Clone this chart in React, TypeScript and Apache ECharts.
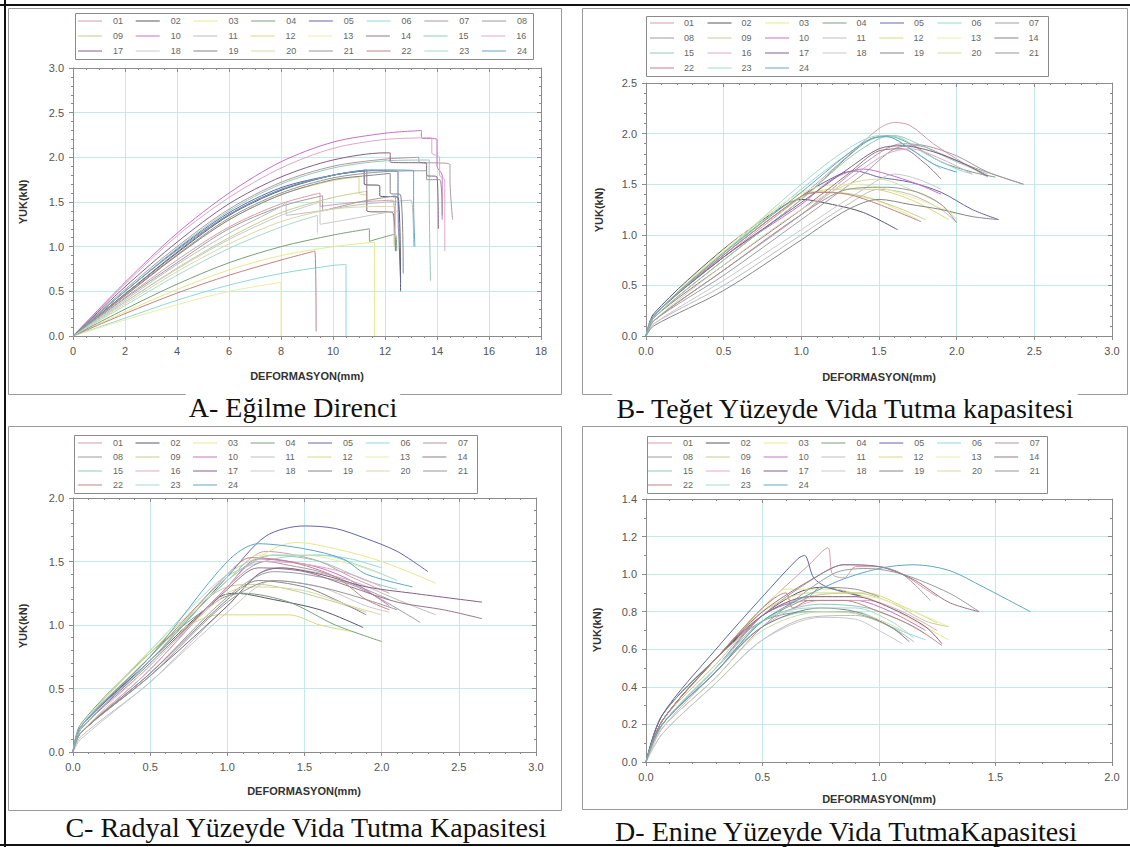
import React, { useEffect, useRef } from "react";
import * as echarts from "echarts";

const IDS = ["01","02","03","04","05","06","07","08","09","10","11","12","13","14","15","16","17","18","19","20","21","22","23","24"];
const COLORS = ["#d99aa6","#56566a","#e8e88a","#78a078","#6464a8","#8fd8d8","#b0979f","#9c9c9c","#c4cc92","#c86ec8","#bdbdbd","#d8d87e","#ececa4","#967686","#93c9b6","#e0a6c8","#845f86","#c8c8c8","#868686","#d8d8a6","#979797","#c08282","#a6dac8","#5ea6c8"];

// Panel A – Eğilme Direnci (deformation mm, load kN)
const CURVES_A: number[][][] = [
  [[0,0],[2,0.43],[4,0.85],[6,1.22],[8,1.48],[9.5,1.6],[9.5,1.45],[11,1.5],[12.3,1.52],[12.4,0.95]],
  [[0,0],[2,0.47],[4,0.93],[6,1.35],[8,1.63],[10,1.8],[11.2,1.85],[11.2,1.7],[11.8,1.68],[11.8,1.57],[12.5,1.55],[12.6,0.5]],
  [[0,0],[2,0.27],[4,0.52],[6,0.74],[8,0.9],[10,1.0],[11.6,1.05],[11.6,0.0]],
  [[0,0],[2,0.3],[4,0.58],[6,0.82],[8,1.0],[10,1.13],[11.4,1.2],[11.4,1.06],[12.4,1.14],[12.45,0.95]],
  [[0,0],[2,0.5],[4,0.97],[6,1.38],[8,1.66],[10,1.8],[11.5,1.85],[12.5,1.84],[12.5,1.62],[12.6,0.6]],
  [[0,0],[2,0.2],[4,0.4],[6,0.57],[8,0.7],[10,0.79],[10.5,0.8],[10.5,0.0]],
  [[0,0],[2,0.52],[4,1.0],[6,1.42],[8,1.72],[10,1.9],[12,1.98],[13.3,2.0],[13.3,1.95],[14.5,1.92],[14.5,1.75],[14.6,1.3]],
  [[0,0],[2,0.42],[4,0.82],[6,1.2],[8,1.45],[9.6,1.57],[9.6,1.4],[11,1.5],[12.4,1.57],[12.4,1.3]],
  [[0,0],[2,0.38],[4,0.76],[6,1.1],[8,1.38],[10,1.55],[11.3,1.62],[11.3,1.4],[12.3,1.38],[12.35,1.0]],
  [[0,0],[2,0.6],[4,1.15],[6,1.6],[8,1.95],[10,2.17],[12,2.27],[13.4,2.3],[13.4,2.22],[14.0,2.2],[14.0,1.9],[14.2,1.8],[14.2,1.3]],
  [[0,0],[2,0.4],[4,0.8],[6,1.15],[8,1.45],[8.2,1.5],[8.2,1.35],[9.5,1.4],[11,1.47],[13,1.52],[13.1,1.0]],
  [[0,0],[2,0.45],[4,0.9],[6,1.3],[8,1.58],[10,1.74],[11,1.78],[11,1.6],[11.3,1.58]],
  [[0,0],[2,0.18],[4,0.35],[6,0.5],[8,0.6],[8,0.0]],
  [[0,0],[2,0.47],[4,0.94],[6,1.36],[8,1.64],[10,1.8],[11.3,1.86],[11.3,1.4],[12.3,1.38],[12.4,0.95]],
  [[0,0],[2,0.5],[4,0.98],[6,1.4],[8,1.7],[10,1.88],[12,1.96],[13.7,1.97],[13.7,1.6],[13.75,0.62]],
  [[0,0],[2,0.58],[4,1.12],[6,1.55],[8,1.88],[10,2.1],[12,2.2],[13.8,2.22],[13.8,2.05],[14.1,2.0],[14.1,1.8],[14.3,1.75],[14.3,0.95]],
  [[0,0],[2,0.55],[4,1.05],[6,1.48],[8,1.78],[10,1.97],[12,2.05],[12.2,2.05],[12.2,1.95],[13.6,1.93],[13.6,1.8],[14,1.78],[14.05,1.2]],
  [[0,0],[2,0.38],[4,0.75],[6,1.08],[8,1.35],[9.5,1.5],[9.5,1.25],[10.5,1.3],[12,1.38],[12.5,1.4],[12.5,1.2]],
  [[0,0],[2,0.45],[4,0.9],[6,1.3],[8,1.58],[10,1.75],[11.5,1.8],[12.2,1.82],[12.2,1.6],[12.6,1.58],[12.7,0.7]],
  [[0,0],[2,0.36],[4,0.72],[6,1.03],[8,1.28],[10,1.42],[12,1.45],[12.4,1.45],[12.4,1.1]],
  [[0,0],[2,0.46],[4,0.91],[6,1.32],[8,1.6],[10,1.77],[12,1.84],[13.6,1.85],[13.6,1.75],[14.1,1.75],[14.2,1.35]],
  [[0,0],[2,0.25],[4,0.48],[6,0.68],[8,0.85],[9.3,0.95],[9.35,0.05]],
  [[0,0],[2,0.34],[4,0.68],[6,0.98],[8,1.22],[9.4,1.35],[9.4,1.15]],
  [[0,0],[2,0.5],[4,0.96],[6,1.36],[8,1.64],[10,1.8],[11.5,1.86],[13.1,1.85],[13.1,1.5],[13.15,1.0]],
];

// Panel B – Teğet Yüzeyde Vida Tutma kapasitesi
const CURVES_B: number[][][] = [
  [[0,0],[0.05,0.2],[0.5,0.78],[1.0,1.38],[1.3,1.78],[1.5,2.05],[1.6,2.11],[1.7,2.08],[1.85,1.9],[2.0,1.75],[2.2,1.57]],
  [[0,0],[0.05,0.22],[0.5,0.86],[0.9,1.3],[1.0,1.35],[1.2,1.3],[1.4,1.22],[1.62,1.05]],
  [[0,0],[0.05,0.2],[0.5,0.83],[0.95,1.38],[1.1,1.43],[1.3,1.4],[1.5,1.33],[1.75,1.15]],
  [[0,0],[0.05,0.18],[0.5,0.75],[1.0,1.35],[1.4,1.9],[1.55,1.98],[1.7,1.9],[1.9,1.72],[2.1,1.62],[2.25,1.57]],
  [[0,0],[0.05,0.2],[0.5,0.8],[1.0,1.38],[1.25,1.6],[1.35,1.63],[1.5,1.57],[1.7,1.52],[1.9,1.42],[2.1,1.25],[2.27,1.15]],
  [[0,0],[0.05,0.2],[0.5,0.8],[1.0,1.45],[1.3,1.8],[1.5,1.97],[1.6,1.97],[1.8,1.8],[2.0,1.65],[2.1,1.6]],
  [[0,0],[0.05,0.15],[0.5,0.65],[1.0,1.2],[1.4,1.7],[1.65,1.9],[1.8,1.88],[2.0,1.78],[2.2,1.62],[2.43,1.5]],
  [[0,0],[0.05,0.15],[0.5,0.6],[1.0,1.15],[1.4,1.6],[1.6,1.85],[1.75,1.88],[1.9,1.8],[2.1,1.67],[2.43,1.5]],
  [[0,0],[0.05,0.2],[0.5,0.83],[1.0,1.38],[1.2,1.42],[1.4,1.38],[1.6,1.28],[1.8,1.15]],
  [[0,0],[0.05,0.2],[0.5,0.78],[1.0,1.3],[1.2,1.55],[1.4,1.65],[1.55,1.6],[1.75,1.5],[1.9,1.4]],
  [[0,0],[0.05,0.12],[0.5,0.5],[1.0,1.0],[1.3,1.3],[1.5,1.45],[1.7,1.4],[1.9,1.25],[2.0,1.12]],
  [[0,0],[0.05,0.2],[0.5,0.8],[1.0,1.37],[1.2,1.45],[1.45,1.45],[1.7,1.35],[1.95,1.15]],
  [[0,0],[0.05,0.2],[0.5,0.85],[1.0,1.42],[1.3,1.5],[1.5,1.47],[1.75,1.35],[2.0,1.2]],
  [[0,0],[0.05,0.18],[0.5,0.7],[1.0,1.25],[1.3,1.6],[1.5,1.83],[1.65,1.85],[1.8,1.7],[1.9,1.55]],
  [[0,0],[0.05,0.18],[0.5,0.75],[1.0,1.35],[1.3,1.75],[1.5,1.95],[1.6,1.98],[1.75,1.9],[2.0,1.72],[2.2,1.6]],
  [[0,0],[0.05,0.15],[0.5,0.65],[1.0,1.2],[1.35,1.6],[1.55,1.8],[1.7,1.85],[1.9,1.75],[2.1,1.6]],
  [[0,0],[0.05,0.2],[0.5,0.78],[1.0,1.32],[1.3,1.65],[1.5,1.85],[1.65,1.88],[1.85,1.82],[2.05,1.7],[2.2,1.58]],
  [[0,0],[0.05,0.12],[0.5,0.55],[1.0,1.05],[1.4,1.45],[1.6,1.6],[1.75,1.55],[1.9,1.45]],
  [[0,0],[0.05,0.1],[0.5,0.45],[1.0,0.95],[1.3,1.25],[1.5,1.35],[1.7,1.3],[1.9,1.25],[2.1,1.18],[2.27,1.15]],
  [[0,0],[0.05,0.15],[0.5,0.7],[1.0,1.25],[1.3,1.5],[1.5,1.55],[1.7,1.45],[1.9,1.3],[2.0,1.15]],
  [[0,0],[0.05,0.15],[0.5,0.65],[1.0,1.2],[1.3,1.45],[1.55,1.47],[1.75,1.42],[1.9,1.3],[2.0,1.12]],
  [[0,0],[0.05,0.2],[0.5,0.8],[1.0,1.38],[1.1,1.42],[1.3,1.4],[1.5,1.3],[1.77,1.13]],
  [[0,0],[0.05,0.2],[0.5,0.82],[1.0,1.5],[1.3,1.85],[1.5,1.98],[1.6,1.95],[1.8,1.75],[1.9,1.65]],
  [[0,0],[0.05,0.2],[0.5,0.82],[1.0,1.42],[1.3,1.8],[1.45,1.95],[1.55,1.97],[1.7,1.85],[1.85,1.7],[2.0,1.62]],
];

// Panel C – Radyal Yüzeyde Vida Tutma Kapasitesi
const CURVES_C: number[][][] = [
  [[0,0],[0.05,0.2],[0.5,0.75],[1.0,1.35],[1.25,1.58],[1.4,1.56],[1.6,1.5],[1.8,1.38],[2.05,1.25]],
  [[0,0],[0.05,0.2],[0.5,0.72],[0.95,1.22],[1.05,1.25],[1.3,1.2],[1.6,1.12],[1.88,0.98]],
  [[0,0],[0.05,0.2],[0.5,0.75],[1.0,1.35],[1.3,1.6],[1.45,1.65],[1.7,1.6],[2.0,1.5],[2.35,1.33]],
  [[0,0],[0.05,0.22],[0.5,0.78],[0.95,1.2],[1.1,1.25],[1.4,1.18],[1.7,1.0],[2.0,0.87]],
  [[0,0],[0.05,0.2],[0.5,0.72],[1.0,1.38],[1.25,1.7],[1.5,1.78],[1.7,1.76],[1.9,1.68],[2.1,1.58],[2.3,1.42]],
  [[0,0],[0.05,0.18],[0.5,0.72],[1.0,1.38],[1.3,1.52],[1.6,1.55],[1.8,1.52],[2.0,1.45]],
  [[0,0],[0.05,0.15],[0.5,0.65],[1.0,1.3],[1.25,1.5],[1.4,1.47],[1.6,1.42],[1.8,1.33],[2.05,1.2]],
  [[0,0],[0.05,0.15],[0.5,0.62],[1.0,1.22],[1.3,1.42],[1.5,1.4],[1.8,1.32],[2.0,1.2],[2.25,1.02]],
  [[0,0],[0.05,0.2],[0.5,0.78],[1.0,1.3],[1.2,1.32],[1.4,1.28],[1.7,1.18],[1.9,1.1]],
  [[0,0],[0.05,0.18],[0.5,0.68],[1.0,1.3],[1.2,1.52],[1.4,1.5],[1.6,1.45],[1.8,1.35],[2.05,1.15]],
  [[0,0],[0.05,0.12],[0.5,0.55],[1.0,1.15],[1.3,1.45],[1.5,1.43],[1.8,1.35],[2.1,1.2],[2.35,1.08]],
  [[0,0],[0.05,0.2],[0.5,0.78],[0.95,1.08],[1.2,1.08],[1.4,1.08],[1.6,1.0],[1.8,0.95]],
  [[0,0],[0.05,0.2],[0.5,0.8],[1.0,1.35],[1.2,1.55],[1.5,1.55],[1.8,1.48],[2.0,1.4]],
  [[0,0],[0.05,0.18],[0.5,0.7],[1.0,1.28],[1.2,1.45],[1.5,1.42],[1.8,1.3],[2.1,1.18],[2.4,1.12],[2.65,1.05]],
  [[0,0],[0.05,0.18],[0.5,0.72],[1.0,1.35],[1.3,1.55],[1.6,1.5],[1.9,1.35],[2.1,1.28]],
  [[0,0],[0.05,0.15],[0.5,0.65],[1.0,1.3],[1.2,1.5],[1.5,1.48],[1.8,1.4],[2.0,1.3]],
  [[0,0],[0.05,0.15],[0.5,0.6],[1.0,1.15],[1.2,1.4],[1.35,1.45],[1.6,1.4],[1.9,1.3],[2.2,1.25],[2.65,1.18]],
  [[0,0],[0.05,0.1],[0.5,0.55],[1.0,1.1],[1.3,1.35],[1.6,1.3],[1.9,1.15],[2.05,1.1]],
  [[0,0],[0.05,0.15],[0.5,0.62],[1.0,1.2],[1.2,1.35],[1.5,1.3],[1.7,1.2],[1.9,1.08]],
  [[0,0],[0.05,0.15],[0.5,0.68],[1.0,1.25],[1.2,1.3],[1.5,1.27],[1.8,1.15],[2.0,1.08]],
  [[0,0],[0.05,0.15],[0.5,0.6],[1.0,1.18],[1.3,1.35],[1.6,1.3],[1.9,1.2],[2.1,1.12]],
  [[0,0],[0.05,0.2],[0.5,0.75],[1.0,1.4],[1.15,1.53],[1.4,1.5],[1.7,1.38],[1.9,1.2],[2.05,1.12]],
  [[0,0],[0.05,0.2],[0.5,0.8],[1.0,1.4],[1.3,1.55],[1.6,1.55],[1.9,1.45],[2.1,1.35]],
  [[0,0],[0.05,0.2],[0.5,0.75],[1.0,1.5],[1.2,1.64],[1.5,1.6],[1.75,1.52],[1.9,1.4],[2.2,1.3]],
];

// Panel D – Enine Yüzeyde Vida Tutma Kapasitesi
const CURVES_D: number[][][] = [
  [[0,0],[0.07,0.22],[0.3,0.55],[0.5,0.82],[0.7,1.05],[0.78,1.14],[0.8,1.0],[0.85,0.98],[0.9,1.04],[1.0,1.04],[1.1,1.0],[1.2,0.92],[1.25,0.88]],
  [[0,0],[0.07,0.25],[0.3,0.55],[0.5,0.78],[0.65,0.9],[0.75,0.93],[0.85,0.91],[0.93,0.88]],
  [[0,0],[0.07,0.22],[0.3,0.55],[0.5,0.8],[0.6,0.92],[0.8,0.92],[1.0,0.85],[1.15,0.75],[1.3,0.65]],
  [[0,0],[0.07,0.25],[0.3,0.55],[0.5,0.75],[0.7,0.8],[0.85,0.8],[1.0,0.75],[1.1,0.68]],
  [[0,0],[0.07,0.25],[0.3,0.6],[0.5,0.88],[0.65,1.08],[0.68,1.1],[0.72,0.98],[0.78,0.93],[0.93,0.88]],
  [[0,0],[0.07,0.2],[0.3,0.5],[0.5,0.72],[0.7,0.8],[0.9,0.8],[1.05,0.72],[1.2,0.65]],
  [[0,0],[0.07,0.2],[0.3,0.5],[0.5,0.78],[0.75,1.0],[0.85,1.05],[1.0,1.04],[1.1,1.0],[1.22,0.86]],
  [[0,0],[0.07,0.18],[0.3,0.45],[0.5,0.72],[0.8,1.0],[0.95,1.03],[1.1,1.0],[1.3,0.9],[1.43,0.8]],
  [[0,0],[0.07,0.22],[0.3,0.52],[0.5,0.78],[0.7,0.88],[0.9,0.9],[1.05,0.85],[1.2,0.75],[1.3,0.72]],
  [[0,0],[0.07,0.2],[0.3,0.5],[0.5,0.78],[0.7,0.86],[0.9,0.86],[1.05,0.8],[1.2,0.7]],
  [[0,0],[0.07,0.15],[0.3,0.42],[0.5,0.65],[0.7,0.77],[0.9,0.78],[1.05,0.72],[1.15,0.64]],
  [[0,0],[0.07,0.22],[0.3,0.55],[0.5,0.8],[0.7,0.9],[0.95,0.9],[1.1,0.83],[1.25,0.74]],
  [[0,0],[0.07,0.2],[0.3,0.5],[0.5,0.75],[0.75,0.88],[0.95,0.88],[1.15,0.8],[1.3,0.72]],
  [[0,0],[0.07,0.22],[0.3,0.55],[0.5,0.8],[0.75,1.0],[0.85,1.05],[1.0,1.04],[1.15,0.97],[1.3,0.85],[1.43,0.8]],
  [[0,0],[0.07,0.2],[0.3,0.5],[0.5,0.75],[0.75,0.84],[0.95,0.82],[1.1,0.75],[1.2,0.68]],
  [[0,0],[0.07,0.18],[0.3,0.48],[0.5,0.72],[0.75,0.86],[0.95,0.86],[1.1,0.8],[1.25,0.7]],
  [[0,0],[0.07,0.22],[0.3,0.55],[0.5,0.78],[0.7,0.88],[0.9,0.88],[1.05,0.82],[1.2,0.72],[1.27,0.63]],
  [[0,0],[0.07,0.15],[0.3,0.42],[0.5,0.65],[0.75,0.77],[0.9,0.76],[1.0,0.7],[1.1,0.63]],
  [[0,0],[0.07,0.2],[0.3,0.48],[0.5,0.72],[0.75,0.82],[0.9,0.8],[1.05,0.72],[1.13,0.64]],
  [[0,0],[0.07,0.18],[0.3,0.45],[0.5,0.7],[0.75,0.8],[0.95,0.78],[1.1,0.7]],
  [[0,0],[0.07,0.2],[0.3,0.48],[0.5,0.75],[0.7,0.88],[0.75,0.93],[0.9,0.92],[1.0,0.88]],
  [[0,0],[0.07,0.22],[0.3,0.55],[0.5,0.82],[0.6,0.9],[0.63,0.82],[0.7,0.86],[0.85,0.86],[1.0,0.8],[1.15,0.72],[1.27,0.62]],
  [[0,0],[0.07,0.2],[0.3,0.5],[0.5,0.75],[0.7,0.82],[0.9,0.82],[1.05,0.75],[1.15,0.66]],
  [[0,0],[0.07,0.2],[0.3,0.48],[0.5,0.75],[0.8,0.95],[1.0,1.03],[1.15,1.05],[1.3,1.02],[1.45,0.93],[1.65,0.8]],
];

const X_TITLE = "DEFORMASYON(mm)";
const Y_TITLE = "YUK(kN)";
const CAPTIONS = [
  "A- Eğilme Direnci",
  "B- Teğet Yüzeyde Vida Tutma kapasitesi",
  "C- Radyal Yüzeyde Vida Tutma Kapasitesi",
  "D- Enine Yüzeyde Vida TutmaKapasitesi",
];

const PANELS = [
  { curves: CURVES_A, grid: { left: 73, top: 68, width: 468, height: 268 },
    x: { min: 0, max: 18, interval: 2, minor: 4, dec: 0 }, y: { min: 0, max: 3, interval: 0.5, minor: 5, dec: 1 },
    smooth: 0.3, frame: [8, 8, 553, 386], legend: { box: [75, 13, 458, 46], rows: [21, 36, 51], perRow: 8, left: 78, gap: 12.7, pad: 6 },
    xTitle: [307, 376], yTitle: [23, 202], caption: [293, 407] },
  { curves: CURVES_B, grid: { left: 646, top: 83, width: 466, height: 253 },
    x: { min: 0, max: 3, interval: 0.5, minor: 5, dec: 1 }, y: { min: 0, max: 2.5, interval: 0.5, minor: 5, dec: 1 },
    smooth: 0.3, frame: [582, 8, 545, 386], legend: { box: [646, 16, 402, 60], rows: [23, 38, 53, 68], perRow: 7, left: 650, gap: 13.5, pad: 5 },
    xTitle: [879, 377], yTitle: [599, 210], caption: [845, 408] },
  { curves: CURVES_C, grid: { left: 73, top: 498, width: 463, height: 254 },
    x: { min: 0, max: 3, interval: 0.5, minor: 5, dec: 1 }, y: { min: 0, max: 2, interval: 0.5, minor: 5, dec: 1 },
    smooth: 0.3, frame: [8, 426, 553, 384], legend: { box: [74, 435, 403, 58], rows: [443, 457, 471, 485], perRow: 7, left: 78, gap: 12.5, pad: 6 },
    xTitle: [304, 791], yTitle: [23, 626], caption: [306, 827] },
  { curves: CURVES_D, grid: { left: 646, top: 499, width: 466, height: 263 },
    x: { min: 0, max: 2, interval: 0.5, minor: 5, dec: 1 }, y: { min: 0, max: 1.4, interval: 0.2, minor: 2, dec: 1 },
    smooth: 0.3, frame: [582, 426, 545, 383], legend: { box: [647, 436, 400, 57], rows: [443, 457, 471, 485], perRow: 7, left: 648, gap: 12.8, pad: 6 },
    xTitle: [879, 799], yTitle: [597, 630], caption: [846, 831] },
];

const AXIS_GRAY = "#8c8c8c";
const GRID_CYAN = "#c4e9ea";
const LABEL_FONT = "'Liberation Sans', Arial, sans-serif";

export default function App() {
  const ref = useRef<HTMLDivElement>(null);
  useEffect(() => {
    if (!ref.current) return;
    const chart = echarts.init(ref.current, undefined, { renderer: "svg" });

    const grids: any[] = [];
    const xAxes: any[] = [];
    const yAxes: any[] = [];
    const series: any[] = [];
    const legends: any[] = [];
    const graphics: any[] = [];

    PANELS.forEach((p, pi) => {
      grids.push({ ...p.grid, show: false });
      const fmt = (dec: number) => (v: number) => v.toFixed(dec);
      const baseLine = { show: true, onZero: false, lineStyle: { color: AXIS_GRAY, width: 1 } };
      const labelStyle = { color: "#555", fontSize: 11, fontFamily: LABEL_FONT, margin: 9 };
      xAxes.push({
        gridIndex: pi, type: "value", position: "bottom", min: p.x.min, max: p.x.max, interval: p.x.interval,
        axisLine: baseLine, axisTick: { show: true, length: 4, lineStyle: { color: AXIS_GRAY } },
        minorTick: { show: true, splitNumber: p.x.minor, length: 2, lineStyle: { color: AXIS_GRAY } },
        splitLine: { show: true, lineStyle: { color: GRID_CYAN, width: 1 } },
        axisLabel: { ...labelStyle, formatter: fmt(p.x.dec), showMinLabel: true, showMaxLabel: true },
      });
      xAxes.push({
        gridIndex: pi, type: "value", position: "top", min: p.x.min, max: p.x.max, interval: p.x.interval,
        axisLine: baseLine, axisTick: { show: true, inside: true, length: 4, lineStyle: { color: AXIS_GRAY } },
        minorTick: { show: true, splitNumber: p.x.minor, length: 2, lineStyle: { color: AXIS_GRAY } },
        splitLine: { show: false }, axisLabel: { show: false },
      });
      yAxes.push({
        gridIndex: pi, type: "value", position: "left", min: p.y.min, max: p.y.max, interval: p.y.interval,
        axisLine: baseLine, axisTick: { show: true, length: 4, lineStyle: { color: AXIS_GRAY } },
        minorTick: { show: true, splitNumber: p.y.minor, length: 2, lineStyle: { color: AXIS_GRAY } },
        splitLine: { show: true, lineStyle: { color: GRID_CYAN, width: 1 } },
        axisLabel: { ...labelStyle, formatter: fmt(p.y.dec), showMinLabel: true, showMaxLabel: true },
      });
      yAxes.push({
        gridIndex: pi, type: "value", position: "right", min: p.y.min, max: p.y.max, interval: p.y.interval,
        axisLine: baseLine, axisTick: { show: true, inside: true, length: 4, lineStyle: { color: AXIS_GRAY } },
        minorTick: { show: true, splitNumber: p.y.minor, length: 2, lineStyle: { color: AXIS_GRAY } },
        splitLine: { show: false }, axisLabel: { show: false },
      });

      p.curves.forEach((pts, i) => {
        series.push({
          type: "line", name: IDS[i], xAxisIndex: pi * 2, yAxisIndex: pi * 2, data: pts,
          symbol: "none", showSymbol: false, smooth: p.smooth,
          lineStyle: { width: 1, color: COLORS[i] }, itemStyle: { color: COLORS[i] },
          silent: true, emphasis: { disabled: true }, clip: true,
        });
      });

      // legend box + rows
      const lg = p.legend;
      graphics.push({ type: "rect", shape: { x: lg.box[0] + 0.5, y: lg.box[1] + 0.5, width: lg.box[2], height: lg.box[3] },
        style: { fill: "#fff", stroke: "#8a8a8a", lineWidth: 1 }, z: 1 });
      lg.rows.forEach((cy, r) => {
        const rowIds = IDS.slice(r * lg.perRow, (r + 1) * lg.perRow);
        if (!rowIds.length) return;
        legends.push({
          show: true, data: rowIds.map((n) => ({ name: n, icon: "rect" })), orient: "horizontal", left: lg.left, top: cy - 5,
          itemWidth: 24, itemHeight: 1, itemGap: lg.gap, padding: 0, selectedMode: false,
          textStyle: { fontSize: 9, color: "#666", fontFamily: LABEL_FONT, lineHeight: 10, padding: [0, 0, 0, lg.pad] },
          z: 10,
        });
      });

      // panel frame
      graphics.push({ type: "rect", shape: { x: p.frame[0] + 0.5, y: p.frame[1] + 0.5, width: p.frame[2], height: p.frame[3] },
        style: { fill: "none", stroke: "#9a9a9a", lineWidth: 1 }, z: 0, silent: true });
      // axis titles
      graphics.push({ type: "text", x: p.xTitle[0], y: p.xTitle[1], z: 5,
        style: { text: X_TITLE, font: `bold 11px ${LABEL_FONT}`, fill: "#333", align: "center", verticalAlign: "middle" } });
      graphics.push({ type: "text", x: p.yTitle[0], y: p.yTitle[1], rotation: Math.PI / 2, z: 5,
        style: { text: Y_TITLE, font: `bold 11px ${LABEL_FONT}`, fill: "#333", align: "center", verticalAlign: "middle" } });
      // caption
      graphics.push({ type: "text", x: p.caption[0], y: p.caption[1], z: 6,
        style: { text: CAPTIONS[pi], font: "28px 'Liberation Serif', 'Times New Roman', serif", fill: "#111",
          align: "center", verticalAlign: "middle", backgroundColor: "#fff", padding: [0, 3, 0, 3] } });
    });

    // outer black border (top, left, bottom)
    graphics.push({ type: "line", shape: { x1: 0, y1: 5, x2: 1130, y2: 5 }, style: { stroke: "#111", lineWidth: 2 }, z: 7 });
    graphics.push({ type: "line", shape: { x1: 5, y1: 0, x2: 5, y2: 847 }, style: { stroke: "#111", lineWidth: 2 }, z: 7 });
    graphics.push({ type: "line", shape: { x1: 0, y1: 845, x2: 1130, y2: 845 }, style: { stroke: "#111", lineWidth: 2 }, z: 7 });

    chart.setOption({
      animation: false,
      backgroundColor: "#fff",
      grid: grids,
      xAxis: xAxes,
      yAxis: yAxes,
      legend: legends,
      series,
      graphic: { elements: graphics },
    });
    return () => chart.dispose();
  }, []);

  return <div ref={ref} style={{ position: "fixed", left: 0, top: 0, width: 1130, height: 847 }} />;
}
